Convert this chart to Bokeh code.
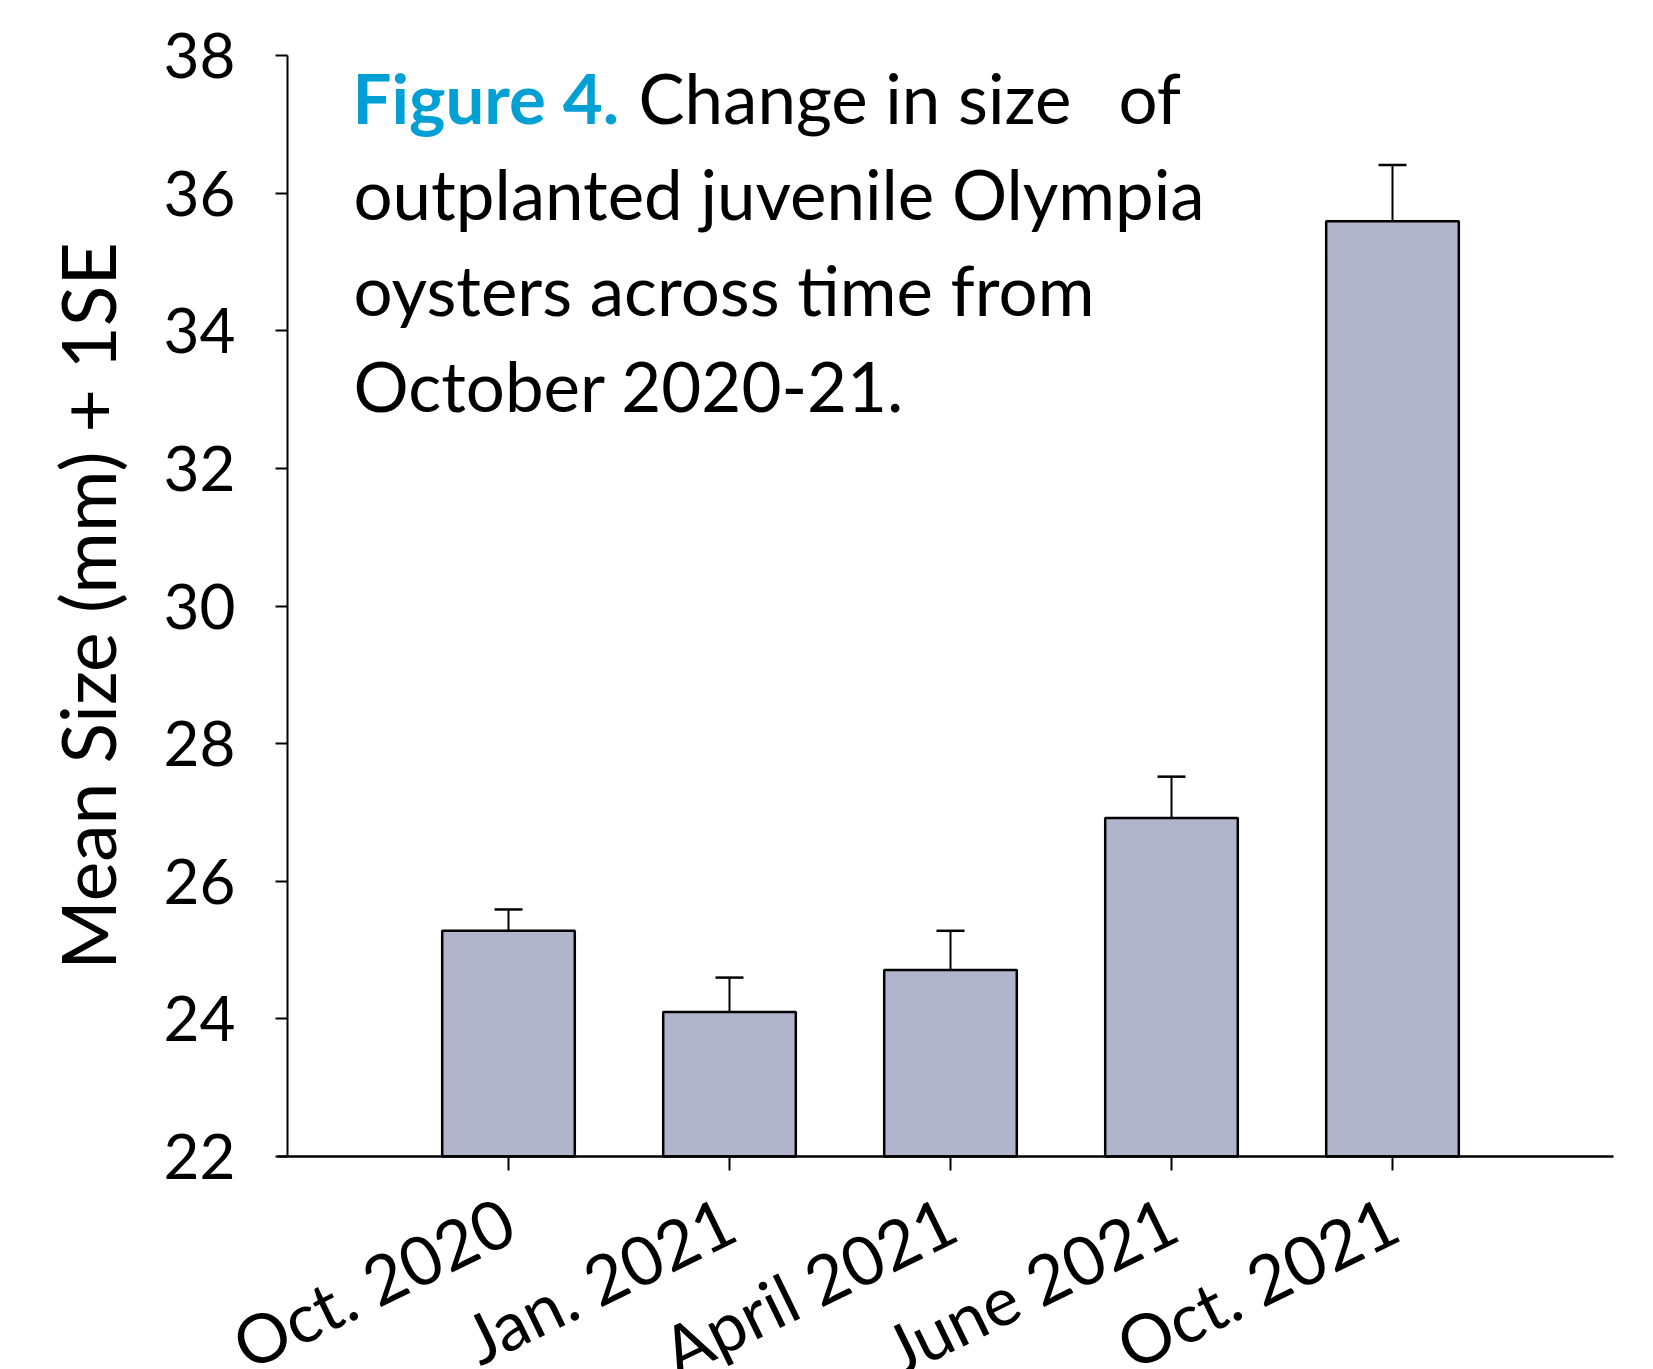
from bokeh.plotting import figure
from bokeh.models import Range1d, FixedTicker, Label, LinearAxis, ColumnDataSource, Whisker, TeeHead
from bokeh.embed import file_html
from bokeh.resources import INLINE
import numpy as np

# Mean shell size of outplanted juvenile Olympia oysters, with +1 SE
months = ["Oct. 2020", "Jan. 2021", "April 2021", "June 2021", "Oct. 2021"]
mean_size = [25.28, 24.10, 24.71, 26.92, 35.59]
std_err = [0.31, 0.50, 0.57, 0.60, 0.82]
y_ticks = [22, 24, 26, 28, 30, 32, 34, 36, 38]

FONT = "Lato"
W, H = 1653, 1369
# canvas pixel positions of the two axes and of the far ends of the axes
AXIS_X_PX, AXIS_Y_PX, TOP_PX, RIGHT_PX = 287, 1156, 55, 1613
Y0, Y1 = y_ticks[0], y_ticks[-1]
N = len(months)
PXX = (RIGHT_PX - AXIS_X_PX) / (N + 1)      # pixels per category step
PXY = (AXIS_Y_PX - TOP_PX) / (Y1 - Y0)      # pixels per mm

# The frame covers the whole canvas and both axes are pinned inside it, so the
# slanted month names and the value labels are never clipped.
x_range = Range1d(-AXIS_X_PX / PXX, (N + 1) + (W - RIGHT_PX) / PXX)
y_range = Range1d(Y0 - (H - AXIS_Y_PX) / PXY, Y1 + TOP_PX / PXY)

pos = list(range(1, N + 1))
src = ColumnDataSource(dict(
    x=pos,
    mean=mean_size,
    upper=[m + s for m, s in zip(mean_size, std_err)],
    base=[Y0] * N,
))

p = figure(width=W, height=H, output_backend="svg", toolbar_location=None,
           x_range=x_range, y_range=y_range,
           x_axis_location=None, y_axis_location=None,
           min_border=0)
p.outline_line_color = None
p.xgrid.visible = False
p.ygrid.visible = False
p.background_fill_color = "white"
p.border_fill_color = "white"

p.vbar(x="x", top="mean", bottom="base", width=0.6, source=src,
       fill_color="#B0B5CC", line_color="black", line_width=2.5)

err = Whisker(base="x", lower="mean", upper="upper", source=src,
              line_color="black", line_width=2,
              upper_head=TeeHead(size=28, line_width=2.5, line_color="black"),
              lower_head=None, level="glyph")
p.add_layout(err)

# value axis
ya = LinearAxis(fixed_location=0, bounds=(Y0, Y1))
ya.ticker = FixedTicker(ticks=y_ticks)
ya.axis_line_width = 2
ya.major_tick_line_width = 2
ya.major_tick_out = 12
ya.major_tick_in = 0
ya.minor_tick_out = 0
ya.minor_tick_in = 0
ya.major_label_standoff = 40
ya.major_label_text_font = FONT
ya.major_label_text_font_size = "62px"
ya.major_label_text_color = "black"
p.add_layout(ya, "left")

# category axis
xa = LinearAxis(fixed_location=Y0, bounds=(-10 / PXX, N + 1))
xa.ticker = FixedTicker(ticks=pos)
xa.major_label_overrides = {i: m for i, m in zip(pos, months)}
xa.major_label_orientation = np.deg2rad(26)
xa.major_label_standoff = 45
xa.major_label_text_font = FONT
xa.major_label_text_font_size = "68px"
xa.major_label_text_color = "black"
xa.axis_line_width = 2.5
xa.major_tick_line_width = 2
xa.major_tick_out = 14
xa.major_tick_in = 0
xa.minor_tick_out = 0
xa.minor_tick_in = 0
p.add_layout(xa, "below")


def px_x(px):
    return (px - AXIS_X_PX) / PXX


def px_y(py):
    return Y1 - (py - TOP_PX) / PXY


# value axis title, centred on the 22-38 span
p.add_layout(Label(x=px_x(86), y=(Y0 + Y1) / 2, text="Mean Size (mm) + 1SE",
                   angle=np.pi / 2, text_align="center",
                   text_baseline="alphabetic", text_font=FONT,
                   text_font_size="75px", text_color="black"))

# caption inside the plot area
cap_size = "69px"
caption = [
    ("Figure 4.", 352, 97, "#009FD4", "bold"),
    ("Change in size", 638, 97, "black", "normal"),
    ("of", 1118, 97, "black", "normal"),
    ("outplanted juvenile Olympia", 353, 193, "black", "normal"),
    ("oysters across time from", 353, 289, "black", "normal"),
    ("October 2020-21.", 353, 385, "black", "normal"),
]
for txt, cx, cy, col, style in caption:
    p.add_layout(Label(x=px_x(cx), y=px_y(cy), text=txt,
                       text_font=FONT, text_font_size=cap_size,
                       text_font_style=style, text_color=col,
                       text_align="left", text_baseline="alphabetic"))

open("out.html", "w").write(file_html(p, INLINE))
